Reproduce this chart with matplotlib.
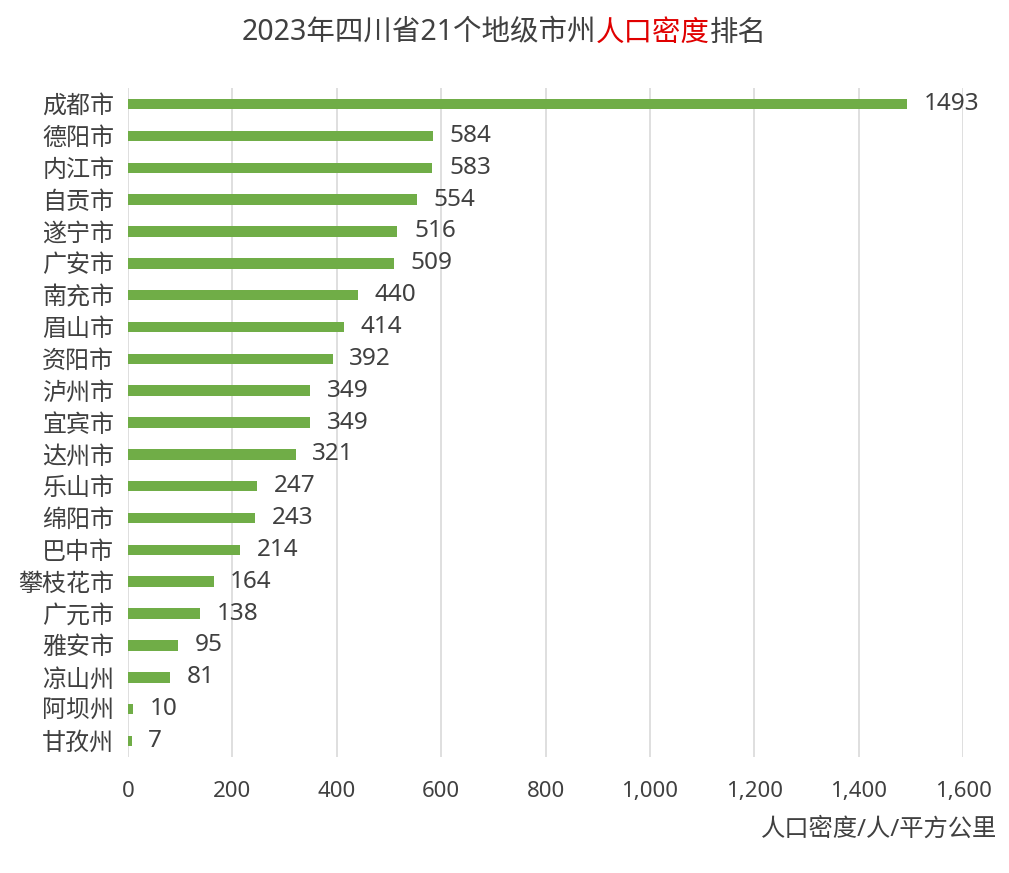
import matplotlib.pyplot as plt
from matplotlib.ticker import FuncFormatter, MultipleLocator

plt.rcParams['font.family'] = ['Noto Sans', 'Noto Sans CJK SC', 'DejaVu Sans']

# data (top to bottom)
cities = ['成都市', '德阳市', '内江市', '自贡市', '遂宁市', '广安市', '南充市',
          '眉山市', '资阳市', '泸州市', '宜宾市', '达州市', '乐山市', '绵阳市',
          '巴中市', '攀枝花市', '广元市', '雅安市', '凉山州', '阿坝州', '甘孜州']
density = [1493, 584, 583, 554, 516, 509, 440, 414, 392, 349, 349, 321,
           247, 243, 214, 164, 138, 95, 81, 10, 7]

text_col = '#404040'
bar_col = '#70AD47'
grid_col = '#D9D9D9'

fig = plt.figure(figsize=(10.09, 8.73), dpi=100)
ax = fig.add_axes([0.1269, 0.133, 0.8275, 0.766])

ypos = list(range(len(cities)))
ax.barh(ypos, density, height=0.33, color=bar_col, zorder=3)
ax.set_ylim(len(cities) - 0.5, -0.5)
ax.set_xlim(0, 1600)
ax.set_yticks(ypos)
ax.set_yticklabels(cities, fontsize=17.3, color=text_col)

ax.xaxis.set_major_locator(MultipleLocator(200))
ax.xaxis.set_major_formatter(FuncFormatter(lambda v, p: f'{int(v):,}'))
ax.tick_params(axis='x', labelsize=16, labelcolor=text_col, length=0, pad=17)
ax.tick_params(axis='y', length=0, pad=10)
ax.grid(axis='x', color=grid_col, linewidth=1.2, zorder=0)
for s in ax.spines.values():
    s.set_visible(False)

for y, v in zip(ypos, density):
    ax.annotate(str(v), (v, y), xytext=(12, 0), textcoords='offset points',
                va='center', ha='left', fontsize=17.5, color=text_col)

fig.text(0.988, 0.05, '人口密度/人/平方公里', ha='right', va='center',
         fontsize=17.5, color=text_col)

# title with coloured middle part
parts = [('2023年四川省21个地级市州', text_col), ('人口密度', '#E00000'), ('排名', text_col)]
renderer = fig.canvas.get_renderer()
texts = []
for s, c in parts:
    t = fig.text(0, 0.962, s, fontsize=20.5, color=c, va='center', ha='left')
    texts.append(t)
widths = [t.get_window_extent(renderer).width for t in texts]
x = (fig.bbox.width - sum(widths)) / 2 / fig.bbox.width
for t, w in zip(texts, widths):
    t.set_x(x)
    x += w / fig.bbox.width

fig.savefig('out.png', dpi=100, facecolor='white')
